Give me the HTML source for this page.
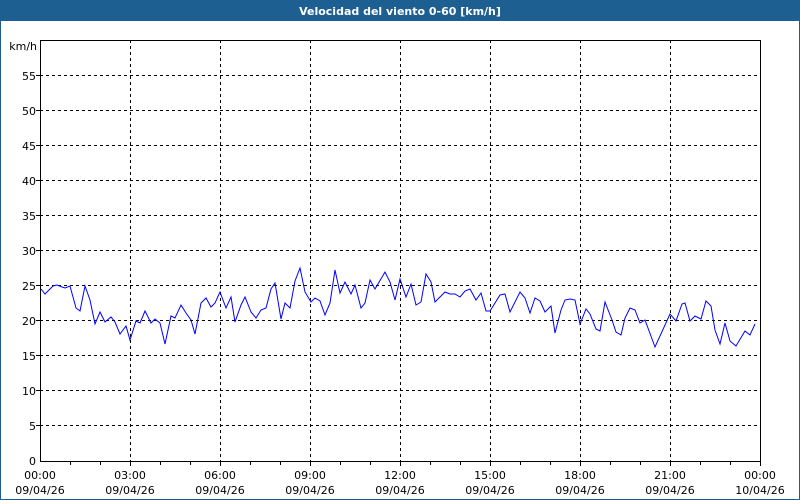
<!DOCTYPE html>
<html><head><style>
body{margin:0;width:800px;height:500px;overflow:hidden;background:#fff;font-family:"DejaVu Sans","Liberation Sans",sans-serif;}
</style></head><body>
<svg width="800" height="500" xmlns="http://www.w3.org/2000/svg" font-family="DejaVu Sans, Liberation Sans, sans-serif" font-size="11">
<rect x="0" y="0" width="800" height="500" fill="#fff"/>
<rect x="0.5" y="0.5" width="799" height="499" fill="none" stroke="#1e5f92"/>
<rect x="0" y="0" width="800" height="21" fill="#1e5f92"/>
<text x="400" y="15" text-anchor="middle" fill="#fff" font-weight="bold" font-size="11">Velocidad del viento 0-60 [km/h]</text>
<g stroke="#000" stroke-dasharray="3,3" stroke-width="1">
<line x1="130.5" y1="40" x2="130.5" y2="461"/>
<line x1="220.5" y1="40" x2="220.5" y2="461"/>
<line x1="310.5" y1="40" x2="310.5" y2="461"/>
<line x1="400.5" y1="40" x2="400.5" y2="461"/>
<line x1="490.5" y1="40" x2="490.5" y2="461"/>
<line x1="580.5" y1="40" x2="580.5" y2="461"/>
<line x1="670.5" y1="40" x2="670.5" y2="461"/>
<line x1="40" y1="75.5" x2="760" y2="75.5"/>
<line x1="40" y1="110.5" x2="760" y2="110.5"/>
<line x1="40" y1="145.5" x2="760" y2="145.5"/>
<line x1="40" y1="180.5" x2="760" y2="180.5"/>
<line x1="40" y1="215.5" x2="760" y2="215.5"/>
<line x1="40" y1="250.5" x2="760" y2="250.5"/>
<line x1="40" y1="285.5" x2="760" y2="285.5"/>
<line x1="40" y1="320.5" x2="760" y2="320.5"/>
<line x1="40" y1="355.5" x2="760" y2="355.5"/>
<line x1="40" y1="390.5" x2="760" y2="390.5"/>
<line x1="40" y1="425.5" x2="760" y2="425.5"/>
</g>
<rect x="40.5" y="40.5" width="720" height="421" fill="none" stroke="#000"/>
<g stroke="#000">
<line x1="70.5" y1="461" x2="70.5" y2="465"/><line x1="100.5" y1="461" x2="100.5" y2="465"/>
<line x1="130.5" y1="461" x2="130.5" y2="466"/><line x1="160.5" y1="461" x2="160.5" y2="465"/>
<line x1="190.5" y1="461" x2="190.5" y2="465"/><line x1="220.5" y1="461" x2="220.5" y2="466"/>
<line x1="250.5" y1="461" x2="250.5" y2="465"/><line x1="280.5" y1="461" x2="280.5" y2="465"/>
<line x1="310.5" y1="461" x2="310.5" y2="466"/><line x1="340.5" y1="461" x2="340.5" y2="465"/>
<line x1="370.5" y1="461" x2="370.5" y2="465"/><line x1="400.5" y1="461" x2="400.5" y2="466"/>
<line x1="430.5" y1="461" x2="430.5" y2="465"/><line x1="460.5" y1="461" x2="460.5" y2="465"/>
<line x1="490.5" y1="461" x2="490.5" y2="466"/><line x1="520.5" y1="461" x2="520.5" y2="465"/>
<line x1="550.5" y1="461" x2="550.5" y2="465"/><line x1="580.5" y1="461" x2="580.5" y2="466"/>
<line x1="610.5" y1="461" x2="610.5" y2="465"/><line x1="640.5" y1="461" x2="640.5" y2="465"/>
<line x1="670.5" y1="461" x2="670.5" y2="466"/><line x1="700.5" y1="461" x2="700.5" y2="465"/>
<line x1="730.5" y1="461" x2="730.5" y2="465"/><line x1="760.5" y1="461" x2="760.5" y2="466"/>
<line x1="36" y1="75.5" x2="40" y2="75.5"/><line x1="36" y1="110.5" x2="40" y2="110.5"/>
<line x1="36" y1="145.5" x2="40" y2="145.5"/><line x1="36" y1="180.5" x2="40" y2="180.5"/>
<line x1="36" y1="215.5" x2="40" y2="215.5"/><line x1="36" y1="250.5" x2="40" y2="250.5"/>
<line x1="36" y1="285.5" x2="40" y2="285.5"/><line x1="36" y1="320.5" x2="40" y2="320.5"/>
<line x1="36" y1="355.5" x2="40" y2="355.5"/><line x1="36" y1="390.5" x2="40" y2="390.5"/>
<line x1="36" y1="425.5" x2="40" y2="425.5"/>
</g>
<g fill="#000" text-anchor="end">
<text x="37" y="50">km/h</text>
<text x="36" y="80">55</text><text x="36" y="115">50</text><text x="36" y="150">45</text>
<text x="36" y="185">40</text><text x="36" y="220">35</text><text x="36" y="255">30</text>
<text x="36" y="290">25</text><text x="36" y="325">20</text><text x="36" y="360">15</text>
<text x="36" y="395">10</text><text x="36" y="430">5</text><text x="36" y="465">0</text>
</g>
<g fill="#000" text-anchor="middle">
<text x="40" y="479">00:00</text><text x="40" y="494">09/04/26</text>
<text x="130" y="479">03:00</text><text x="130" y="494">09/04/26</text>
<text x="220" y="479">06:00</text><text x="220" y="494">09/04/26</text>
<text x="310" y="479">09:00</text><text x="310" y="494">09/04/26</text>
<text x="400" y="479">12:00</text><text x="400" y="494">09/04/26</text>
<text x="490" y="479">15:00</text><text x="490" y="494">09/04/26</text>
<text x="580" y="479">18:00</text><text x="580" y="494">09/04/26</text>
<text x="670" y="479">21:00</text><text x="670" y="494">09/04/26</text>
<text x="760" y="479">00:00</text><text x="760" y="494">10/04/26</text>
</g>
<polyline fill="none" stroke="#0000ff" stroke-width="1" points="41,289 45,294 53,286 57,285 62,287 65,288 70,286 76,308 80,311 85,286 90,300 95,324 100,312 105,322 111,317 115,322 120,334 126,326 130,340 136,321 140,323 145,311 151,323 155,319 160,323 165,344 171,316 175,318 181,305 186,313 191,320 195,334 201,303 206,298 211,307 215,303 220,292 226,308 231,297 235,322 241,305 245,297 251,312 256,318 261,310 266,308 271,289 275,283 281,319 285,303 290,308 295,281 300,268 305,292 311,302 315,298 320,301 325,315 330,303 335,270 340,293 345,282 351,294 355,285 361,308 365,303 370,280 375,289 385,272 390,282 395,300 400,279 406,297 411,284 416,305 421,302 426,274 431,282 435,302 445,292 450,294 455,294 460,297 465,291 470,289 476,300 481,293 486,311 490,311 500,295 505,294 510,312 520,292 525,298 530,313 535,298 540,301 545,312 551,306 555,333 561,310 565,300 570,299 575,300 580,324 586,309 590,314 596,329 600,331 605,302 612,320 616,332 621,335 625,318 630,308 635,310 640,323 645,320 655,347 670,314 676,321 682,304 685,303 690,321 695,316 701,319 706,301 711,306 715,330 720,344 725,323 730,341 736,346 745,331 750,335 755,324"/>
</svg>
</body></html>
